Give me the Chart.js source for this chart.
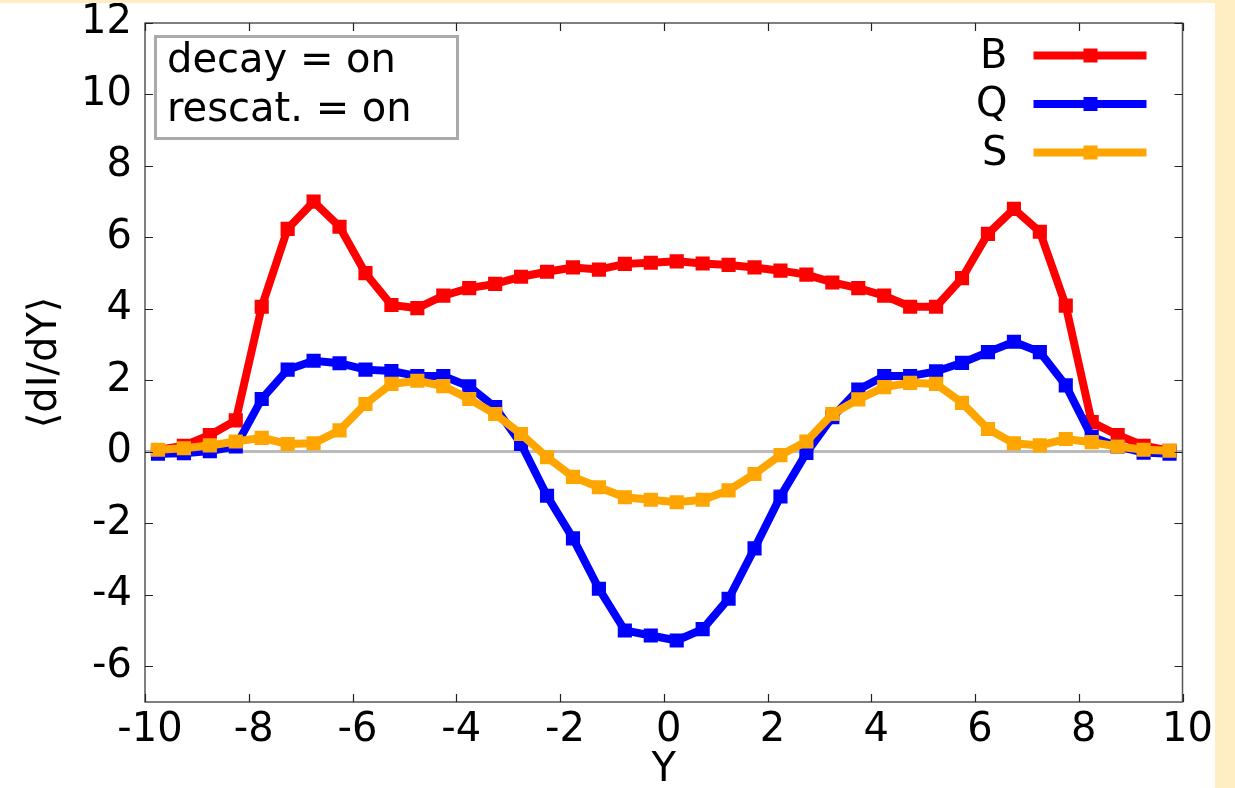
<!DOCTYPE html>
<html>
<head>
<meta charset="utf-8">
<script src="https://cdn.jsdelivr.net/npm/chart.js@4"></script>
<style>
  html, body { margin: 0; padding: 0; background: #ffedc4; }
  #wrap { position: absolute; left: 0; top: 3px; width: 1215px; height: 785px; background: #fff; }
</style>
</head>
<body>
<div id="wrap"><canvas id="chart" width="1215" height="785"></canvas></div>
<script>
// rapidity bins
var yBins = [-9.75, -9.25, -8.75, -8.25, -7.75, -7.25, -6.75, -6.25, -5.75, -5.25,
             -4.75, -4.25, -3.75, -3.25, -2.75, -2.25, -1.75, -1.25, -0.75, -0.25,
              0.25,  0.75,  1.25,  1.75,  2.25,  2.75,  3.25,  3.75,  4.25,  4.75,
              5.25,  5.75,  6.25,  6.75,  7.25,  7.75,  8.25,  8.75,  9.25,  9.75];

var valuesB = [0.05, 0.17, 0.47, 0.88, 4.06, 6.24, 7.00, 6.30, 5.00, 4.11,
               4.02, 4.37, 4.58, 4.70, 4.90, 5.04, 5.16, 5.10, 5.26, 5.29,
               5.33, 5.27, 5.23, 5.16, 5.07, 4.96, 4.74, 4.58, 4.37, 4.06,
               4.06, 4.86, 6.10, 6.80, 6.16, 4.09, 0.83, 0.47, 0.17, 0.03];

var valuesQ = [-0.05, -0.04, 0.02, 0.15, 1.48, 2.30, 2.55, 2.48, 2.30, 2.26,
               2.12, 2.12, 1.83, 1.25, 0.22, -1.23, -2.42, -3.83, -5.00, -5.14,
               -5.28, -4.96, -4.11, -2.70, -1.25, -0.03, 0.97, 1.74, 2.12, 2.12,
               2.25, 2.49, 2.79, 3.08, 2.79, 1.86, 0.42, 0.15, -0.02, -0.05];

var valuesS = [0.06, 0.10, 0.18, 0.29, 0.39, 0.22, 0.24, 0.60, 1.34, 1.90,
               1.99, 1.84, 1.48, 1.06, 0.50, -0.15, -0.70, -0.99, -1.27, -1.34,
               -1.41, -1.34, -1.08, -0.62, -0.09, 0.29, 1.06, 1.47, 1.81, 1.93,
               1.90, 1.37, 0.64, 0.24, 0.18, 0.36, 0.27, 0.15, 0.06, 0.03];

var seriesNames = ['B', 'Q', 'S'];
var seriesColors = ['#ff0000', '#0000ff', '#ffa500'];
var xTicks = [-10, -8, -6, -4, -2, 0, 2, 4, 6, 8, 10];
var yTicks = [-6, -4, -2, 0, 2, 4, 6, 8, 10, 12];
var infoLines = ['decay = on', 'rescat. = on'];

var FONT = "'DejaVu Sans', sans-serif";

function toPoints(vals) {
  return yBins.map(function(x, i) { return { x: x, y: vals[i] }; });
}

function makeSet(i, vals) {
  return {
    label: seriesNames[i],
    data: toPoints(vals),
    borderColor: seriesColors[i],
    backgroundColor: seriesColors[i],
    borderWidth: 8,
    pointStyle: 'rect',
    pointRadius: 10,
    pointBorderWidth: 0,
    pointBackgroundColor: seriesColors[i],
    tension: 0,
    order: 2 - i
  };
}

// Rahmen, Ticks nach innen, Infobox und Legende
var decorPlugin = {
  id: 'decor',
  afterDraw: function(chart) {
    var ctx = chart.ctx;
    var a = chart.chartArea;
    var xs = chart.scales.x, ys = chart.scales.y;
    ctx.save();
    ctx.strokeStyle = '#555';
    ctx.lineWidth = 1.5;
    ctx.strokeRect(a.left, a.top, a.right - a.left, a.bottom - a.top);
    ctx.lineWidth = 1.2;
    ctx.strokeStyle = '#222';
    ctx.beginPath();
    xTicks.forEach(function(v) {
      var px = Math.round(xs.getPixelForValue(v)) + 0.5;
      ctx.moveTo(px, a.bottom); ctx.lineTo(px, a.bottom - 8);
      ctx.moveTo(px, a.top); ctx.lineTo(px, a.top + 8);
    });
    yTicks.forEach(function(v) {
      var py = Math.round(ys.getPixelForValue(v)) + 0.5;
      ctx.moveTo(a.left, py); ctx.lineTo(a.left + 8, py);
      ctx.moveTo(a.right, py); ctx.lineTo(a.right - 8, py);
    });
    ctx.stroke();

    // Infobox oben links
    ctx.strokeStyle = '#aaa';
    ctx.lineWidth = 3;
    ctx.strokeRect(a.left + 10.5, a.top + 13.5, 302, 102);
    ctx.fillStyle = '#000';
    ctx.font = '40px ' + FONT;
    ctx.textAlign = 'left';
    ctx.textBaseline = 'alphabetic';
    ctx.fillText(infoLines[0], a.left + 22, a.top + 49);
    ctx.fillText(infoLines[1], a.left + 22, a.top + 98);

    // Legende oben rechts
    chart.data.datasets.forEach(function(ds, i) {
      var ly = a.top + 32.5 + i * 48.5;
      ctx.fillStyle = '#000';
      ctx.textAlign = 'right';
      ctx.textBaseline = 'middle';
      ctx.fillText(ds.label, a.right - 175, ly + 2);
      ctx.strokeStyle = ds.borderColor;
      ctx.lineWidth = 8;
      ctx.beginPath();
      ctx.moveTo(a.right - 149, ly);
      ctx.lineTo(a.right - 36, ly);
      ctx.stroke();
      ctx.fillStyle = ds.borderColor;
      ctx.fillRect(a.right - 99, ly - 7, 14, 14);
    });
    ctx.restore();
  }
};

var chart = new Chart(document.getElementById('chart').getContext('2d'), {
  type: 'line',
  data: {
    datasets: [makeSet(0, valuesB), makeSet(1, valuesQ), makeSet(2, valuesS)]
  },
  options: {
    responsive: false,
    animation: false,
    events: [],
    layout: { padding: { top: 20, right: 32.5, left: 0, bottom: 0 } },
    plugins: { legend: { display: false }, tooltip: { enabled: false } },
    scales: {
      x: {
        type: 'linear',
        min: -10,
        max: 10,
        afterBuildTicks: function(s) { s.ticks = xTicks.map(function(v) { return { value: v }; }); },
        afterFit: function(s) { s.height = 86; s.paddingLeft = 0; s.paddingRight = 0; },
        grid: { display: false },
        border: { display: false },
        ticks: { color: '#000', font: { family: FONT, size: 40 }, padding: -3, labelOffset: 5, maxRotation: 0, autoSkip: false },
        title: { display: true, text: 'Y', color: '#000', font: { family: FONT, size: 40, lineHeight: 1 }, padding: { top: 0, bottom: -3 } }
      },
      y: {
        min: -7,
        max: 12,
        afterBuildTicks: function(s) { s.ticks = yTicks.map(function(v) { return { value: v }; }); },
        afterFit: function(s) { s.width = 145; s.paddingTop = 0; s.paddingBottom = 0; },
        grid: {
          drawTicks: false,
          lineWidth: 3,
          color: function(c) { return c.tick && c.tick.value === 0 ? '#bbbbbb' : 'rgba(0,0,0,0)'; }
        },
        border: { display: false },
        ticks: { color: '#000', font: { family: FONT, size: 40 }, padding: 13 },
        title: { display: true, text: '\u27E8dI/dY\u27E9', color: '#000', font: { family: FONT, size: 40, lineHeight: 1 }, padding: { top: 26, bottom: 0 } }
      }
    }
  },
  plugins: [decorPlugin]
});
</script>
</body>
</html>
